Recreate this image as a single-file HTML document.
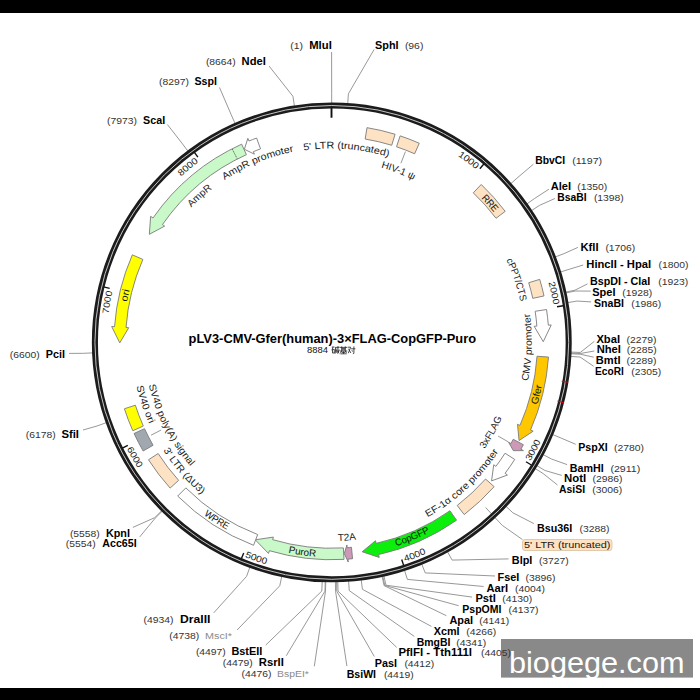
<!DOCTYPE html>
<html><head><meta charset="utf-8"><style>
html,body{margin:0;padding:0;background:#fff;}
svg{display:block;}
text{font-family:"Liberation Sans",sans-serif;}
</style></head><body>
<svg width="700" height="700" viewBox="0 0 700 700">
<rect width="700" height="700" fill="#fff"/>
<rect x="0" y="0" width="700" height="13" fill="#000"/>
<rect x="0" y="688" width="700" height="12" fill="#000"/>
<path d="M347.68,104.30 L348.39,93.82 L374.10,49.50" fill="none" stroke="#8c8c8c" stroke-width="0.9"/>
<path d="M510.14,184.23 L518.00,177.27 L533.40,164.20" fill="none" stroke="#8c8c8c" stroke-width="0.9"/>
<path d="M526.16,204.45 L534.73,198.38 L548.90,189.20" fill="none" stroke="#8c8c8c" stroke-width="0.9"/>
<path d="M530.73,211.13 L539.50,205.36 L554.90,198.50" fill="none" stroke="#8c8c8c" stroke-width="0.9"/>
<path d="M554.35,257.29 L564.16,253.55 L577.90,247.40" fill="none" stroke="#8c8c8c" stroke-width="0.9"/>
<path d="M559.51,272.28 L569.54,269.20 L583.20,265.00" fill="none" stroke="#8c8c8c" stroke-width="0.9"/>
<path d="M564.72,292.36 L574.99,290.16 L587.50,283.90" fill="none" stroke="#8c8c8c" stroke-width="0.9"/>
<path d="M564.90,293.18 L575.17,291.02 L590.70,291.10" fill="none" stroke="#8c8c8c" stroke-width="0.9"/>
<path d="M566.71,302.79 L577.07,301.06 L591.10,301.90" fill="none" stroke="#8c8c8c" stroke-width="0.9"/>
<path d="M569.80,352.03 L580.29,352.46 L594.30,341.40" fill="none" stroke="#8c8c8c" stroke-width="0.9"/>
<path d="M569.76,353.04 L580.24,353.52 L594.30,351.00" fill="none" stroke="#8c8c8c" stroke-width="0.9"/>
<path d="M569.72,353.72 L580.21,354.22 L593.70,357.20" fill="none" stroke="#8c8c8c" stroke-width="0.9"/>
<path d="M569.58,356.41 L580.06,357.03 L593.70,366.30" fill="none" stroke="#8c8c8c" stroke-width="0.9"/>
<path d="M551.60,434.10 L561.29,438.15 L575.70,444.30" fill="none" stroke="#8c8c8c" stroke-width="0.9"/>
<path d="M542.16,454.07 L551.43,459.00 L567.10,464.60" fill="none" stroke="#8c8c8c" stroke-width="0.9"/>
<path d="M535.94,465.08 L544.94,470.49 L561.80,475.40" fill="none" stroke="#8c8c8c" stroke-width="0.9"/>
<path d="M534.18,467.96 L543.10,473.50 L557.50,485.00" fill="none" stroke="#8c8c8c" stroke-width="0.9"/>
<path d="M505.25,505.63 L512.90,512.82 L533.90,523.60" fill="none" stroke="#8c8c8c" stroke-width="0.9"/>
<path d="M447.03,550.90 L452.12,560.09 L508.60,558.90" fill="none" stroke="#8c8c8c" stroke-width="0.9"/>
<path d="M421.33,563.19 L425.28,572.91 L495.00,576.00" fill="none" stroke="#8c8c8c" stroke-width="0.9"/>
<path d="M404.21,569.40 L407.41,579.40 L483.60,586.50" fill="none" stroke="#8c8c8c" stroke-width="0.9"/>
<path d="M383.70,574.97 L386.00,585.21 L472.10,597.10" fill="none" stroke="#8c8c8c" stroke-width="0.9"/>
<path d="M382.55,575.22 L384.80,585.48 L458.60,605.70" fill="none" stroke="#8c8c8c" stroke-width="0.9"/>
<path d="M381.89,575.37 L384.11,585.63 L446.40,615.70" fill="none" stroke="#8c8c8c" stroke-width="0.9"/>
<path d="M361.11,578.90 L362.41,589.32 L431.40,626.40" fill="none" stroke="#8c8c8c" stroke-width="0.9"/>
<path d="M348.52,580.14 L349.27,590.62 L414.30,636.40" fill="none" stroke="#8c8c8c" stroke-width="0.9"/>
<path d="M337.74,580.67 L338.02,591.16 L396.70,647.40" fill="none" stroke="#8c8c8c" stroke-width="0.9"/>
<path d="M336.56,580.70 L336.78,591.19 L374.30,656.50" fill="none" stroke="#8c8c8c" stroke-width="0.9"/>
<path d="M335.38,580.72 L335.55,591.22 L346.90,666.10" fill="none" stroke="#8c8c8c" stroke-width="0.9"/>
<path d="M331.67,103.75 L331.68,93.25 L331.60,52.00" fill="none" stroke="#8c8c8c" stroke-width="0.9"/>
<path d="M294.54,106.63 L292.91,96.26 L269.10,66.10" fill="none" stroke="#8c8c8c" stroke-width="0.9"/>
<path d="M235.31,124.01 L231.07,114.40 L219.50,87.50" fill="none" stroke="#8c8c8c" stroke-width="0.9"/>
<path d="M188.25,151.56 L181.94,143.17 L167.40,124.50" fill="none" stroke="#8c8c8c" stroke-width="0.9"/>
<path d="M93.24,352.87 L82.75,353.34 L69.00,353.40" fill="none" stroke="#8c8c8c" stroke-width="0.9"/>
<path d="M106.89,422.46 L97.01,426.00 L83.00,430.00" fill="none" stroke="#8c8c8c" stroke-width="0.9"/>
<path d="M162.20,510.24 L154.75,517.63 L132.90,527.40" fill="none" stroke="#8c8c8c" stroke-width="0.9"/>
<path d="M162.68,510.72 L155.24,518.13 L139.70,536.90" fill="none" stroke="#8c8c8c" stroke-width="0.9"/>
<path d="M250.17,566.46 L246.59,576.33 L213.70,612.90" fill="none" stroke="#8c8c8c" stroke-width="0.9"/>
<path d="M281.94,575.54 L279.75,585.81 L237.10,630.00" fill="none" stroke="#8c8c8c" stroke-width="0.9"/>
<path d="M322.23,580.57 L321.82,591.06 L265.70,645.10" fill="none" stroke="#8c8c8c" stroke-width="0.9"/>
<path d="M325.26,580.67 L324.98,591.16 L286.30,655.70" fill="none" stroke="#8c8c8c" stroke-width="0.9"/>
<path d="M325.77,580.68 L325.51,591.18 L314.30,666.30" fill="none" stroke="#8c8c8c" stroke-width="0.9"/>
<path d="M485.63,507.54 L502.20,525.31 L522.50,539.60" fill="none" stroke="#8c8c8c" stroke-width="0.9"/>
<circle cx="331.8" cy="342.4" r="236.9" fill="none" stroke="#1c1c1c" stroke-width="6.1"/>
<circle cx="331.8" cy="342.4" r="236.9" fill="none" stroke="#c4c4c4" stroke-width="1.0"/>
<path d="M561.73,381.19 L568.14,382.27" fill="none" stroke="#e00000" stroke-width="1.0"/>
<path d="M557.46,401.11 L563.75,402.75" fill="none" stroke="#e00000" stroke-width="1.0"/>
<path d="M483.86,163.99 L479.84,168.71" fill="none" stroke="#111" stroke-width="1.4"/>
<path id="p1" d="M151.67,206.69 A225.2,225.2 0 0 1 511.33,477.81" fill="none" stroke="none"/>
<text font-size="9.0" fill="#222"><textPath href="#p1" startOffset="50%" text-anchor="middle" textLength="22.90" lengthAdjust="spacingAndGlyphs">1000</textPath></text>
<path d="M563.14,305.75 L557.02,306.71" fill="none" stroke="#111" stroke-width="1.4"/>
<path id="p2" d="M282.88,122.36 A225.2,225.2 0 0 1 380.12,562.14" fill="none" stroke="none"/>
<text font-size="9.0" fill="#222"><textPath href="#p2" startOffset="50%" text-anchor="middle" textLength="22.90" lengthAdjust="spacingAndGlyphs">2000</textPath></text>
<path d="M531.30,465.01 L526.02,461.76" fill="none" stroke="#111" stroke-width="1.4"/>
<path id="p3" d="M222.29,546.49 A231.6,231.6 0 0 0 440.71,138.01" fill="none" stroke="none"/>
<text font-size="9.0" fill="#222"><textPath href="#p3" startOffset="50%" text-anchor="middle" textLength="22.90" lengthAdjust="spacingAndGlyphs">3000</textPath></text>
<path d="M403.62,565.39 L401.71,559.49" fill="none" stroke="#111" stroke-width="1.4"/>
<path id="p4" d="M115.78,426.54 A231.6,231.6 0 0 0 547.22,257.96" fill="none" stroke="none"/>
<text font-size="9.0" fill="#222"><textPath href="#p4" startOffset="50%" text-anchor="middle" textLength="22.90" lengthAdjust="spacingAndGlyphs">4000</textPath></text>
<path d="M241.34,558.72 L243.72,553.00" fill="none" stroke="#111" stroke-width="1.4"/>
<path id="p5" d="M112.75,266.17 A231.6,231.6 0 0 0 550.25,418.33" fill="none" stroke="none"/>
<text font-size="9.0" fill="#222"><textPath href="#p5" startOffset="50%" text-anchor="middle" textLength="22.90" lengthAdjust="spacingAndGlyphs">5000</textPath></text>
<path d="M122.31,448.22 L127.84,445.42" fill="none" stroke="#111" stroke-width="1.4"/>
<path id="p6" d="M214.65,142.29 A231.6,231.6 0 0 0 448.35,542.21" fill="none" stroke="none"/>
<text font-size="9.0" fill="#222"><textPath href="#p6" startOffset="50%" text-anchor="middle" textLength="22.90" lengthAdjust="spacingAndGlyphs">6000</textPath></text>
<path d="M103.63,286.89 L109.65,288.35" fill="none" stroke="#111" stroke-width="1.4"/>
<path id="p7" d="M291.84,563.93 A225.2,225.2 0 0 1 371.16,120.57" fill="none" stroke="none"/>
<text font-size="9.0" fill="#222"><textPath href="#p7" startOffset="50%" text-anchor="middle" textLength="22.90" lengthAdjust="spacingAndGlyphs">7000</textPath></text>
<path d="M194.26,152.11 L197.88,157.13" fill="none" stroke="#111" stroke-width="1.4"/>
<path id="p8" d="M157.32,484.99 A225.2,225.2 0 0 1 505.68,199.51" fill="none" stroke="none"/>
<text font-size="9.0" fill="#222"><textPath href="#p8" startOffset="50%" text-anchor="middle" textLength="22.90" lengthAdjust="spacingAndGlyphs">8000</textPath></text>
<path d="M331.50,107.75 L331.50,117.75" fill="none" stroke="#111" stroke-width="1.9"/>
<path d="M367.02,127.67 A217.5,217.5 0 0 1 395.09,134.25 L391.73,145.25 A206.0,206.0 0 0 0 365.15,139.02 Z" fill="#fde2c4" stroke="#7a7a7a" stroke-width="0.9" stroke-linejoin="miter"/>
<path d="M400.15,135.87 A217.5,217.5 0 0 1 419.27,143.25 L414.63,153.77 A206.0,206.0 0 0 0 396.52,146.78 Z" fill="#fde2c4" stroke="#7a7a7a" stroke-width="0.9" stroke-linejoin="miter"/>
<path d="M481.22,184.48 A217.5,217.5 0 0 1 505.20,211.36 L496.02,218.28 A206.0,206.0 0 0 0 473.30,192.82 Z" fill="#fde2c4" stroke="#7a7a7a" stroke-width="0.9" stroke-linejoin="miter"/>
<path d="M539.72,279.39 A217.5,217.5 0 0 1 544.01,295.92 L532.77,298.37 A206.0,206.0 0 0 0 528.71,282.71 Z" fill="#fde2c4" stroke="#7a7a7a" stroke-width="0.9" stroke-linejoin="miter"/>
<path d="M546.53,309.54 A217.5,217.5 0 0 1 548.33,325.19 L551.22,324.96 L543.25,341.70 L534.17,326.30 L536.86,326.09 A206.0,206.0 0 0 0 535.16,311.27 Z" fill="#ffffff" stroke="#7a7a7a" stroke-width="0.9" stroke-linejoin="miter"/>
<path d="M548.50,357.04 A217.5,217.5 0 0 1 530.50,430.02 L533.16,431.19 L519.05,440.55 L517.51,424.29 L519.98,425.38 A206.0,206.0 0 0 0 537.02,356.26 Z" fill="#ffc700" stroke="#7a7a7a" stroke-width="0.9" stroke-linejoin="miter"/>
<path d="M523.36,444.70 A217.5,217.5 0 0 1 520.90,449.19 L523.42,450.61 L513.38,450.68 L508.53,442.21 L510.88,443.53 A206.0,206.0 0 0 0 513.22,439.28 Z" fill="#cc99b6" stroke="#7a7a7a" stroke-width="0.9" stroke-linejoin="miter"/>
<path d="M514.73,459.43 A217.5,217.5 0 0 1 505.09,473.30 L507.40,475.04 L491.55,480.89 L493.76,464.74 L495.91,466.37 A206.0,206.0 0 0 0 505.05,453.24 Z" fill="#ffffff" stroke="#7a7a7a" stroke-width="0.9" stroke-linejoin="miter"/>
<path d="M494.15,486.65 A217.5,217.5 0 0 1 464.21,514.57 L457.19,505.46 A206.0,206.0 0 0 0 485.55,479.02 Z" fill="#fde2c4" stroke="#7a7a7a" stroke-width="0.9" stroke-linejoin="miter"/>
<path d="M456.56,520.20 A217.5,217.5 0 0 1 378.58,554.59 L379.20,557.43 L362.18,551.77 L375.50,540.73 L376.09,543.37 A206.0,206.0 0 0 0 449.95,510.79 Z" fill="#0cee0c" stroke="#7a7a7a" stroke-width="0.9" stroke-linejoin="miter"/>
<path d="M352.57,558.73 A217.5,217.5 0 0 1 348.00,559.12 L348.22,562.02 L344.28,553.61 L346.92,544.96 L347.12,547.66 A206.0,206.0 0 0 0 351.46,547.28 Z" fill="#cc99b6" stroke="#7a7a7a" stroke-width="0.9" stroke-linejoin="miter"/>
<path d="M344.02,559.39 A217.5,217.5 0 0 1 269.36,550.69 L268.53,553.46 L255.27,539.80 L273.42,537.08 L272.65,539.66 A206.0,206.0 0 0 0 343.36,547.91 Z" fill="#c9f8c9" stroke="#7a7a7a" stroke-width="0.9" stroke-linejoin="miter"/>
<path d="M253.55,545.30 A217.5,217.5 0 0 1 177.70,496.05 L185.84,487.91 A206.0,206.0 0 0 0 257.68,534.57 Z" fill="#ffffff" stroke="#7a7a7a" stroke-width="0.9" stroke-linejoin="miter"/>
<path d="M170.12,488.07 A217.5,217.5 0 0 1 148.47,459.75 L158.15,453.54 A206.0,206.0 0 0 0 178.65,480.36 Z" fill="#fde2c4" stroke="#7a7a7a" stroke-width="0.9" stroke-linejoin="miter"/>
<path d="M143.14,451.00 A217.5,217.5 0 0 1 134.06,433.48 L144.50,428.66 A206.0,206.0 0 0 0 153.10,445.25 Z" fill="#a2a8b0" stroke="#7a7a7a" stroke-width="0.9" stroke-linejoin="miter"/>
<path d="M132.80,430.72 A217.5,217.5 0 0 1 124.41,408.74 L135.36,405.22 A206.0,206.0 0 0 0 143.31,426.04 Z" fill="#ffff00" stroke="#7a7a7a" stroke-width="0.9" stroke-linejoin="miter"/>
<path d="M132.34,254.83 A217.5,217.5 0 0 0 114.56,326.70 L111.66,326.49 L119.75,342.84 L128.72,327.71 L126.03,327.52 A206.0,206.0 0 0 1 142.87,259.45 Z" fill="#ffff00" stroke="#7a7a7a" stroke-width="0.9" stroke-linejoin="miter"/>
<path d="M241.65,144.18 A217.5,217.5 0 0 0 153.01,217.96 L150.63,216.31 L149.33,234.30 L164.66,226.08 L162.45,224.54 A206.0,206.0 0 0 1 246.40,154.65 Z" fill="#c9f8c9" stroke="#7a7a7a" stroke-width="0.9" stroke-linejoin="miter"/>
<path d="M256.58,138.06 A217.5,217.5 0 0 0 248.97,141.02 L247.87,138.33 L244.36,149.26 L254.36,154.15 L253.33,151.66 A206.0,206.0 0 0 1 260.54,148.86 Z" fill="#ffffff" stroke="#7a7a7a" stroke-width="0.9" stroke-linejoin="miter"/>
<line x1="232.31" y1="149.25" x2="237.11" y2="158.59" stroke="#333" stroke-width="0.9" stroke-dasharray="1.2,1.2"/>
<path id="p9" d="M138.27,327.38 A193.8,193.8 0 0 1 524.73,357.12" fill="none" stroke="none"/>
<text font-size="9.8" fill="#1a1a1a"><textPath href="#p9" startOffset="50%" text-anchor="middle" textLength="85.67" lengthAdjust="spacingAndGlyphs">5' LTR (truncated)</textPath></text>
<path id="p10" d="M161.19,275.85 A182.8,182.8 0 0 1 501.81,408.65" fill="none" stroke="none"/>
<text font-size="9.8" fill="#1a1a1a"><textPath href="#p10" startOffset="50%" text-anchor="middle" textLength="35.02" lengthAdjust="spacingAndGlyphs">HIV-1 ψ</textPath></text>
<path d="M405.45,151.59 L400.93,163.24" fill="none" stroke="#8c8c8c" stroke-width="0.9"/>
<path id="p11" d="M194.03,185.49 A208.5,208.5 0 0 1 468.97,499.01" fill="none" stroke="none"/>
<text font-size="9.8" fill="#111"><textPath href="#p11" startOffset="50%" text-anchor="middle" textLength="19.10" lengthAdjust="spacingAndGlyphs">RRE</textPath></text>
<path id="p12" d="M269.37,158.68 A193.8,193.8 0 0 1 393.63,525.82" fill="none" stroke="none"/>
<text font-size="9.8" fill="#1a1a1a"><textPath href="#p12" startOffset="50%" text-anchor="middle" textLength="43.92" lengthAdjust="spacingAndGlyphs">cPPT/CTS</textPath></text>
<path id="p13" d="M326.24,543.18 A201.0,201.0 0 0 0 336.76,141.32" fill="none" stroke="none"/>
<text font-size="9.8" fill="#1a1a1a"><textPath href="#p13" startOffset="50%" text-anchor="middle" textLength="68.28" lengthAdjust="spacingAndGlyphs">CMV promoter</textPath></text>
<path id="p14" d="M278.40,550.59 A215.0,215.0 0 0 0 384.60,133.91" fill="none" stroke="none"/>
<text font-size="9.8" fill="#111"><textPath href="#p14" startOffset="50%" text-anchor="middle" textLength="20.35" lengthAdjust="spacingAndGlyphs">Gfer</textPath></text>
<path id="p15" d="M239.31,505.86 A187.8,187.8 0 0 0 423.69,178.64" fill="none" stroke="none"/>
<text font-size="9.8" fill="#1a1a1a"><textPath href="#p15" startOffset="50%" text-anchor="middle" textLength="36.09" lengthAdjust="spacingAndGlyphs">3xFLAG</textPath></text>
<path d="M508.36,441.90 L498.08,436.11" fill="none" stroke="#8c8c8c" stroke-width="0.9"/>
<path id="p16" d="M185.05,477.87 A199.6,199.6 0 0 0 477.95,206.63" fill="none" stroke="none"/>
<text font-size="9.8" fill="#1a1a1a"><textPath href="#p16" startOffset="50%" text-anchor="middle" textLength="97.80" lengthAdjust="spacingAndGlyphs">EF-1α core promoter</textPath></text>
<path id="p17" d="M132.87,424.53 A215.0,215.0 0 0 0 530.13,259.97" fill="none" stroke="none"/>
<text font-size="9.8" fill="#111"><textPath href="#p17" startOffset="50%" text-anchor="middle" textLength="36.84" lengthAdjust="spacingAndGlyphs">CopGFP</textPath></text>
<path id="p18" d="M133.31,357.85 A198.8,198.8 0 0 0 529.69,326.65" fill="none" stroke="none"/>
<text font-size="9.8" fill="#1a1a1a"><textPath href="#p18" startOffset="50%" text-anchor="middle" textLength="18.25" lengthAdjust="spacingAndGlyphs">T2A</textPath></text>
<path id="p19" d="M118.54,312.70 A215.0,215.0 0 0 0 544.46,371.80" fill="none" stroke="none"/>
<text font-size="9.8" fill="#111"><textPath href="#p19" startOffset="50%" text-anchor="middle" textLength="27.92" lengthAdjust="spacingAndGlyphs">PuroR</textPath></text>
<path id="p20" d="M150.78,225.78 A215.0,215.0 0 0 0 512.22,458.72" fill="none" stroke="none"/>
<text font-size="9.8" fill="#111"><textPath href="#p20" startOffset="50%" text-anchor="middle" textLength="27.58" lengthAdjust="spacingAndGlyphs">WPRE</textPath></text>
<path id="p21" d="M200.02,191.54 A200.0,200.0 0 0 0 462.98,492.96" fill="none" stroke="none"/>
<text font-size="9.8" fill="#1a1a1a"><textPath href="#p21" startOffset="50%" text-anchor="middle" textLength="58.99" lengthAdjust="spacingAndGlyphs">3' LTR (ΔU3)</textPath></text>
<path id="p22" d="M245.51,175.29 A187.8,187.8 0 0 0 417.49,509.21" fill="none" stroke="none"/>
<text font-size="9.8" fill="#1a1a1a"><textPath href="#p22" startOffset="50%" text-anchor="middle" textLength="92.29" lengthAdjust="spacingAndGlyphs">SV40 poly(A) signal</textPath></text>
<path d="M151.03,435.20 L161.16,429.98" fill="none" stroke="#8c8c8c" stroke-width="0.9"/>
<path id="p23" d="M268.43,152.66 A199.8,199.8 0 0 0 394.57,531.84" fill="none" stroke="none"/>
<text font-size="9.8" fill="#1a1a1a"><textPath href="#p23" startOffset="50%" text-anchor="middle" textLength="39.78" lengthAdjust="spacingAndGlyphs">SV40 ori</textPath></text>
<path id="p24" d="M285.31,545.57 A208.5,208.5 0 0 1 377.69,138.93" fill="none" stroke="none"/>
<text font-size="9.8" fill="#111"><textPath href="#p24" startOffset="50%" text-anchor="middle" textLength="12.29" lengthAdjust="spacingAndGlyphs">ori</textPath></text>
<path id="p25" d="M186.96,472.40 A194.5,194.5 0 0 1 476.04,212.10" fill="none" stroke="none"/>
<text font-size="9.8" fill="#1a1a1a"><textPath href="#p25" startOffset="50%" text-anchor="middle" textLength="28.23" lengthAdjust="spacingAndGlyphs">AmpR</textPath></text>
<path id="p26" d="M151.73,415.98 A194.3,194.3 0 0 1 511.27,268.52" fill="none" stroke="none"/>
<text font-size="9.8" fill="#1a1a1a"><textPath href="#p26" startOffset="50%" text-anchor="middle" textLength="75.30" lengthAdjust="spacingAndGlyphs">AmpR promoter</textPath></text>
<rect x="501" y="639" width="192" height="38.6" fill="#898989"/>
<text x="509.0" y="673.0" font-size="30.2" fill="#fff" textLength="175.5" lengthAdjust="spacingAndGlyphs">biogege.com</text>
<text x="375.10" y="49.00" font-size="10.0" font-weight="bold" fill="#000" text-anchor="start" textLength="23.47" lengthAdjust="spacingAndGlyphs">SphI</text>
<text x="404.90" y="49.00" font-size="9.4" fill="#333" text-anchor="start" textLength="18.47" lengthAdjust="spacingAndGlyphs">(96)</text>
<text x="535.30" y="164.10" font-size="10.0" font-weight="bold" fill="#000" text-anchor="start" textLength="29.91" lengthAdjust="spacingAndGlyphs">BbvCI</text>
<text x="572.20" y="164.10" font-size="9.4" fill="#333" text-anchor="start" textLength="29.93" lengthAdjust="spacingAndGlyphs">(1197)</text>
<text x="550.80" y="190.30" font-size="10.0" font-weight="bold" fill="#000" text-anchor="start" textLength="20.29" lengthAdjust="spacingAndGlyphs">AleI</text>
<text x="577.30" y="190.30" font-size="9.4" fill="#333" text-anchor="start" textLength="29.93" lengthAdjust="spacingAndGlyphs">(1350)</text>
<text x="557.30" y="201.10" font-size="10.0" font-weight="bold" fill="#000" text-anchor="start" textLength="29.29" lengthAdjust="spacingAndGlyphs">BsaBI</text>
<text x="593.90" y="201.10" font-size="9.4" fill="#333" text-anchor="start" textLength="29.93" lengthAdjust="spacingAndGlyphs">(1398)</text>
<text x="580.50" y="250.80" font-size="10.0" font-weight="bold" fill="#000" text-anchor="start" textLength="18.12" lengthAdjust="spacingAndGlyphs">KflI</text>
<text x="605.40" y="250.80" font-size="9.4" fill="#333" text-anchor="start" textLength="29.93" lengthAdjust="spacingAndGlyphs">(1706)</text>
<text x="586.30" y="267.50" font-size="10.0" font-weight="bold" fill="#000" text-anchor="start" textLength="64.83" lengthAdjust="spacingAndGlyphs">HincII - HpaI</text>
<text x="658.60" y="267.50" font-size="9.4" fill="#333" text-anchor="start" textLength="29.93" lengthAdjust="spacingAndGlyphs">(1800)</text>
<text x="590.10" y="285.10" font-size="10.0" font-weight="bold" fill="#000" text-anchor="start" textLength="60.18" lengthAdjust="spacingAndGlyphs">BspDI - ClaI</text>
<text x="658.20" y="285.10" font-size="9.4" fill="#333" text-anchor="start" textLength="29.93" lengthAdjust="spacingAndGlyphs">(1923)</text>
<text x="592.30" y="296.00" font-size="10.0" font-weight="bold" fill="#000" text-anchor="start" textLength="23.17" lengthAdjust="spacingAndGlyphs">SpeI</text>
<text x="622.20" y="296.00" font-size="9.4" fill="#333" text-anchor="start" textLength="29.93" lengthAdjust="spacingAndGlyphs">(1928)</text>
<text x="594.00" y="307.20" font-size="10.0" font-weight="bold" fill="#000" text-anchor="start" textLength="29.96" lengthAdjust="spacingAndGlyphs">SnaBI</text>
<text x="631.20" y="307.20" font-size="9.4" fill="#333" text-anchor="start" textLength="29.93" lengthAdjust="spacingAndGlyphs">(1986)</text>
<text x="596.40" y="342.70" font-size="10.0" font-weight="bold" fill="#000" text-anchor="start" textLength="23.60" lengthAdjust="spacingAndGlyphs">XbaI</text>
<text x="626.50" y="342.70" font-size="9.4" fill="#333" text-anchor="start" textLength="29.93" lengthAdjust="spacingAndGlyphs">(2279)</text>
<text x="596.70" y="353.30" font-size="10.0" font-weight="bold" fill="#000" text-anchor="start" textLength="24.18" lengthAdjust="spacingAndGlyphs">NheI</text>
<text x="626.80" y="353.30" font-size="9.4" fill="#333" text-anchor="start" textLength="29.93" lengthAdjust="spacingAndGlyphs">(2285)</text>
<text x="595.80" y="364.00" font-size="10.0" font-weight="bold" fill="#000" text-anchor="start" textLength="24.68" lengthAdjust="spacingAndGlyphs">BmtI</text>
<text x="626.50" y="364.00" font-size="9.4" fill="#333" text-anchor="start" textLength="29.93" lengthAdjust="spacingAndGlyphs">(2289)</text>
<text x="595.10" y="375.00" font-size="10.0" font-weight="bold" fill="#000" text-anchor="start" textLength="28.74" lengthAdjust="spacingAndGlyphs">EcoRI</text>
<text x="631.20" y="375.00" font-size="9.4" fill="#333" text-anchor="start" textLength="29.93" lengthAdjust="spacingAndGlyphs">(2305)</text>
<text x="578.30" y="450.70" font-size="10.0" font-weight="bold" fill="#000" text-anchor="start" textLength="29.48" lengthAdjust="spacingAndGlyphs">PspXI</text>
<text x="614.00" y="450.70" font-size="9.4" fill="#333" text-anchor="start" textLength="29.93" lengthAdjust="spacingAndGlyphs">(2780)</text>
<text x="569.80" y="471.50" font-size="10.0" font-weight="bold" fill="#000" text-anchor="start" textLength="33.98" lengthAdjust="spacingAndGlyphs">BamHI</text>
<text x="610.40" y="471.50" font-size="9.4" fill="#333" text-anchor="start" textLength="29.93" lengthAdjust="spacingAndGlyphs">(2911)</text>
<text x="564.00" y="482.20" font-size="10.0" font-weight="bold" fill="#000" text-anchor="start" textLength="22.16" lengthAdjust="spacingAndGlyphs">NotI</text>
<text x="592.60" y="482.20" font-size="9.4" fill="#333" text-anchor="start" textLength="29.93" lengthAdjust="spacingAndGlyphs">(2986)</text>
<text x="559.00" y="492.90" font-size="10.0" font-weight="bold" fill="#000" text-anchor="start" textLength="26.03" lengthAdjust="spacingAndGlyphs">AsiSI</text>
<text x="592.20" y="492.90" font-size="9.4" fill="#333" text-anchor="start" textLength="29.93" lengthAdjust="spacingAndGlyphs">(3006)</text>
<text x="536.90" y="532.10" font-size="10.0" font-weight="bold" fill="#000" text-anchor="start" textLength="35.29" lengthAdjust="spacingAndGlyphs">Bsu36I</text>
<text x="579.60" y="532.10" font-size="9.4" fill="#333" text-anchor="start" textLength="29.93" lengthAdjust="spacingAndGlyphs">(3288)</text>
<text x="511.80" y="564.30" font-size="10.0" font-weight="bold" fill="#000" text-anchor="start" textLength="20.53" lengthAdjust="spacingAndGlyphs">BlpI</text>
<text x="538.90" y="564.30" font-size="9.4" fill="#333" text-anchor="start" textLength="29.93" lengthAdjust="spacingAndGlyphs">(3727)</text>
<text x="497.50" y="580.80" font-size="10.0" font-weight="bold" fill="#000" text-anchor="start" textLength="21.75" lengthAdjust="spacingAndGlyphs">FseI</text>
<text x="525.60" y="580.80" font-size="9.4" fill="#333" text-anchor="start" textLength="29.93" lengthAdjust="spacingAndGlyphs">(3896)</text>
<text x="486.50" y="591.50" font-size="10.0" font-weight="bold" fill="#000" text-anchor="start" textLength="21.62" lengthAdjust="spacingAndGlyphs">AarI</text>
<text x="515.00" y="591.50" font-size="9.4" fill="#333" text-anchor="start" textLength="29.93" lengthAdjust="spacingAndGlyphs">(4004)</text>
<text x="475.40" y="602.00" font-size="10.0" font-weight="bold" fill="#000" text-anchor="start" textLength="20.40" lengthAdjust="spacingAndGlyphs">PstI</text>
<text x="502.20" y="602.00" font-size="9.4" fill="#333" text-anchor="start" textLength="29.93" lengthAdjust="spacingAndGlyphs">(4130)</text>
<text x="462.30" y="612.50" font-size="10.0" font-weight="bold" fill="#000" text-anchor="start" textLength="39.14" lengthAdjust="spacingAndGlyphs">PspOMI</text>
<text x="508.60" y="612.50" font-size="9.4" fill="#333" text-anchor="start" textLength="29.93" lengthAdjust="spacingAndGlyphs">(4137)</text>
<text x="449.40" y="624.00" font-size="10.0" font-weight="bold" fill="#000" text-anchor="start" textLength="23.62" lengthAdjust="spacingAndGlyphs">ApaI</text>
<text x="479.30" y="624.00" font-size="9.4" fill="#333" text-anchor="start" textLength="29.93" lengthAdjust="spacingAndGlyphs">(4141)</text>
<text x="433.70" y="634.70" font-size="10.0" font-weight="bold" fill="#000" text-anchor="start" textLength="25.79" lengthAdjust="spacingAndGlyphs">XcmI</text>
<text x="466.20" y="634.70" font-size="9.4" fill="#333" text-anchor="start" textLength="29.93" lengthAdjust="spacingAndGlyphs">(4266)</text>
<text x="416.70" y="645.50" font-size="10.0" font-weight="bold" fill="#000" text-anchor="start" textLength="33.68" lengthAdjust="spacingAndGlyphs">BmgBI</text>
<text x="456.30" y="645.50" font-size="9.4" fill="#333" text-anchor="start" textLength="29.93" lengthAdjust="spacingAndGlyphs">(4341)</text>
<text x="398.40" y="656.30" font-size="10.0" font-weight="bold" fill="#000" text-anchor="start" textLength="73.66" lengthAdjust="spacingAndGlyphs">PflFI - Tth111I</text>
<text x="481.00" y="656.30" font-size="9.4" fill="#333" text-anchor="start" textLength="29.93" lengthAdjust="spacingAndGlyphs">(4405)</text>
<text x="374.80" y="667.00" font-size="10.0" font-weight="bold" fill="#000" text-anchor="start" textLength="22.17" lengthAdjust="spacingAndGlyphs">PasI</text>
<text x="404.40" y="667.00" font-size="9.4" fill="#333" text-anchor="start" textLength="29.93" lengthAdjust="spacingAndGlyphs">(4412)</text>
<text x="346.70" y="677.50" font-size="10.0" font-weight="bold" fill="#000" text-anchor="start" textLength="29.37" lengthAdjust="spacingAndGlyphs">BsiWI</text>
<text x="383.90" y="677.50" font-size="9.4" fill="#333" text-anchor="start" textLength="29.93" lengthAdjust="spacingAndGlyphs">(4419)</text>
<text x="309.20" y="49.10" font-size="10.0" font-weight="bold" fill="#000" text-anchor="start" textLength="22.59" lengthAdjust="spacingAndGlyphs">MluI</text>
<text x="290.30" y="49.10" font-size="9.4" fill="#333" text-anchor="start" textLength="12.75" lengthAdjust="spacingAndGlyphs">(1)</text>
<text x="241.60" y="65.10" font-size="10.0" font-weight="bold" fill="#000" text-anchor="start" textLength="24.22" lengthAdjust="spacingAndGlyphs">NdeI</text>
<text x="205.90" y="65.10" font-size="9.4" fill="#333" text-anchor="start" textLength="29.93" lengthAdjust="spacingAndGlyphs">(8664)</text>
<text x="194.50" y="85.30" font-size="10.0" font-weight="bold" fill="#000" text-anchor="start" textLength="22.42" lengthAdjust="spacingAndGlyphs">SspI</text>
<text x="159.00" y="85.30" font-size="9.4" fill="#333" text-anchor="start" textLength="29.93" lengthAdjust="spacingAndGlyphs">(8297)</text>
<text x="143.10" y="123.80" font-size="10.0" font-weight="bold" fill="#000" text-anchor="start" textLength="22.03" lengthAdjust="spacingAndGlyphs">ScaI</text>
<text x="107.00" y="123.80" font-size="9.4" fill="#333" text-anchor="start" textLength="29.93" lengthAdjust="spacingAndGlyphs">(7973)</text>
<text x="45.80" y="358.40" font-size="10.0" font-weight="bold" fill="#000" text-anchor="start" textLength="19.16" lengthAdjust="spacingAndGlyphs">PciI</text>
<text x="9.70" y="358.40" font-size="9.4" fill="#333" text-anchor="start" textLength="29.93" lengthAdjust="spacingAndGlyphs">(6600)</text>
<text x="61.40" y="437.80" font-size="10.0" font-weight="bold" fill="#000" text-anchor="start" textLength="17.62" lengthAdjust="spacingAndGlyphs">SfiI</text>
<text x="25.70" y="437.80" font-size="9.4" fill="#333" text-anchor="start" textLength="29.93" lengthAdjust="spacingAndGlyphs">(6178)</text>
<text x="106.00" y="536.70" font-size="10.0" font-weight="bold" fill="#000" text-anchor="start" textLength="23.96" lengthAdjust="spacingAndGlyphs">KpnI</text>
<text x="69.90" y="536.70" font-size="9.4" fill="#333" text-anchor="start" textLength="29.93" lengthAdjust="spacingAndGlyphs">(5558)</text>
<text x="102.30" y="547.00" font-size="10.0" font-weight="bold" fill="#000" text-anchor="start" textLength="34.30" lengthAdjust="spacingAndGlyphs">Acc65I</text>
<text x="65.80" y="547.00" font-size="9.4" fill="#333" text-anchor="start" textLength="29.93" lengthAdjust="spacingAndGlyphs">(5554)</text>
<text x="180.00" y="623.30" font-size="10.0" font-weight="bold" fill="#000" text-anchor="start" textLength="30.40" lengthAdjust="spacingAndGlyphs">DraIII</text>
<text x="143.60" y="623.30" font-size="9.4" fill="#333" text-anchor="start" textLength="29.93" lengthAdjust="spacingAndGlyphs">(4934)</text>
<text x="205.10" y="639.00" font-size="9.6" fill="#8a8a8a" text-anchor="start" textLength="26.94" lengthAdjust="spacingAndGlyphs">MscI*</text>
<text x="169.30" y="639.00" font-size="9.4" fill="#333" text-anchor="start" textLength="29.93" lengthAdjust="spacingAndGlyphs">(4738)</text>
<text x="231.40" y="655.30" font-size="10.0" font-weight="bold" fill="#000" text-anchor="start" textLength="30.95" lengthAdjust="spacingAndGlyphs">BstEII</text>
<text x="195.90" y="655.30" font-size="9.4" fill="#333" text-anchor="start" textLength="29.93" lengthAdjust="spacingAndGlyphs">(4497)</text>
<text x="258.80" y="665.50" font-size="10.0" font-weight="bold" fill="#000" text-anchor="start" textLength="25.01" lengthAdjust="spacingAndGlyphs">RsrII</text>
<text x="222.70" y="665.50" font-size="9.4" fill="#333" text-anchor="start" textLength="29.93" lengthAdjust="spacingAndGlyphs">(4479)</text>
<text x="277.10" y="677.00" font-size="9.6" fill="#8a8a8a" text-anchor="start" textLength="31.80" lengthAdjust="spacingAndGlyphs">BspEI*</text>
<text x="241.60" y="677.00" font-size="9.4" fill="#333" text-anchor="start" textLength="29.93" lengthAdjust="spacingAndGlyphs">(4476)</text>
<rect x="522.5" y="539.5" width="89.5" height="11" rx="2.5" fill="#fde2c4" stroke="#d8c0a0" stroke-width="0.8"/>
<text x="524.0" y="548.0" font-size="9.9" fill="#1a1a1a" textLength="86.5" lengthAdjust="spacingAndGlyphs">5' LTR (truncated)</text>
<text x="188.6" y="343.3" font-size="12.4" font-weight="bold" fill="#000" textLength="287.5" lengthAdjust="spacingAndGlyphs">pLV3-CMV-Gfer(human)-3×FLAG-CopGFP-Puro</text>
<text x="306.9" y="352.5" font-size="8.2" fill="#111" textLength="21.0" lengthAdjust="spacingAndGlyphs">8884</text>
<path transform="translate(331.50,346.20)" d="M0.3,0.8 H3 M1.5,0.8 L0.4,4.2 M1.0,3.2 H2.8 V6.8 H1.0 Z M3.8,1.2 H7.8 M4.0,1.2 V5.5 L3.4,7.6 M4.6,3.0 H6.0 M4.6,4.2 H5.8 V6 H4.6 Z M6.2,0.2 L7.0,6.6 L7.9,7.4 M7.9,3.5 L6.0,7.4 M7.2,0.3 L7.7,0.9" fill="none" stroke="#222" stroke-width="0.8"/>
<path transform="translate(339.50,346.20)" d="M0.2,1.2 H7.8 M2.2,0.2 V4.8 M5.8,0.2 V4.8 M2.2,2.4 H5.8 M2.2,3.6 H5.8 M0.2,4.8 H7.8 M2.6,4.8 L0.6,6.4 M5.4,4.8 L7.4,6.4 M2.0,6.2 H6.0 M4.0,5.2 V7.6 M0.8,7.6 H7.2" fill="none" stroke="#222" stroke-width="0.8"/>
<path transform="translate(347.50,346.20)" d="M0.3,1.0 H3.2 L0.8,7.0 M1.0,2.6 L3.4,6.8 M3.6,2.6 H7.9 M6.4,0.2 V7.2 L5.4,7.6 M4.4,4.0 L5.2,5.4" fill="none" stroke="#222" stroke-width="0.8"/>
</svg></body></html>
